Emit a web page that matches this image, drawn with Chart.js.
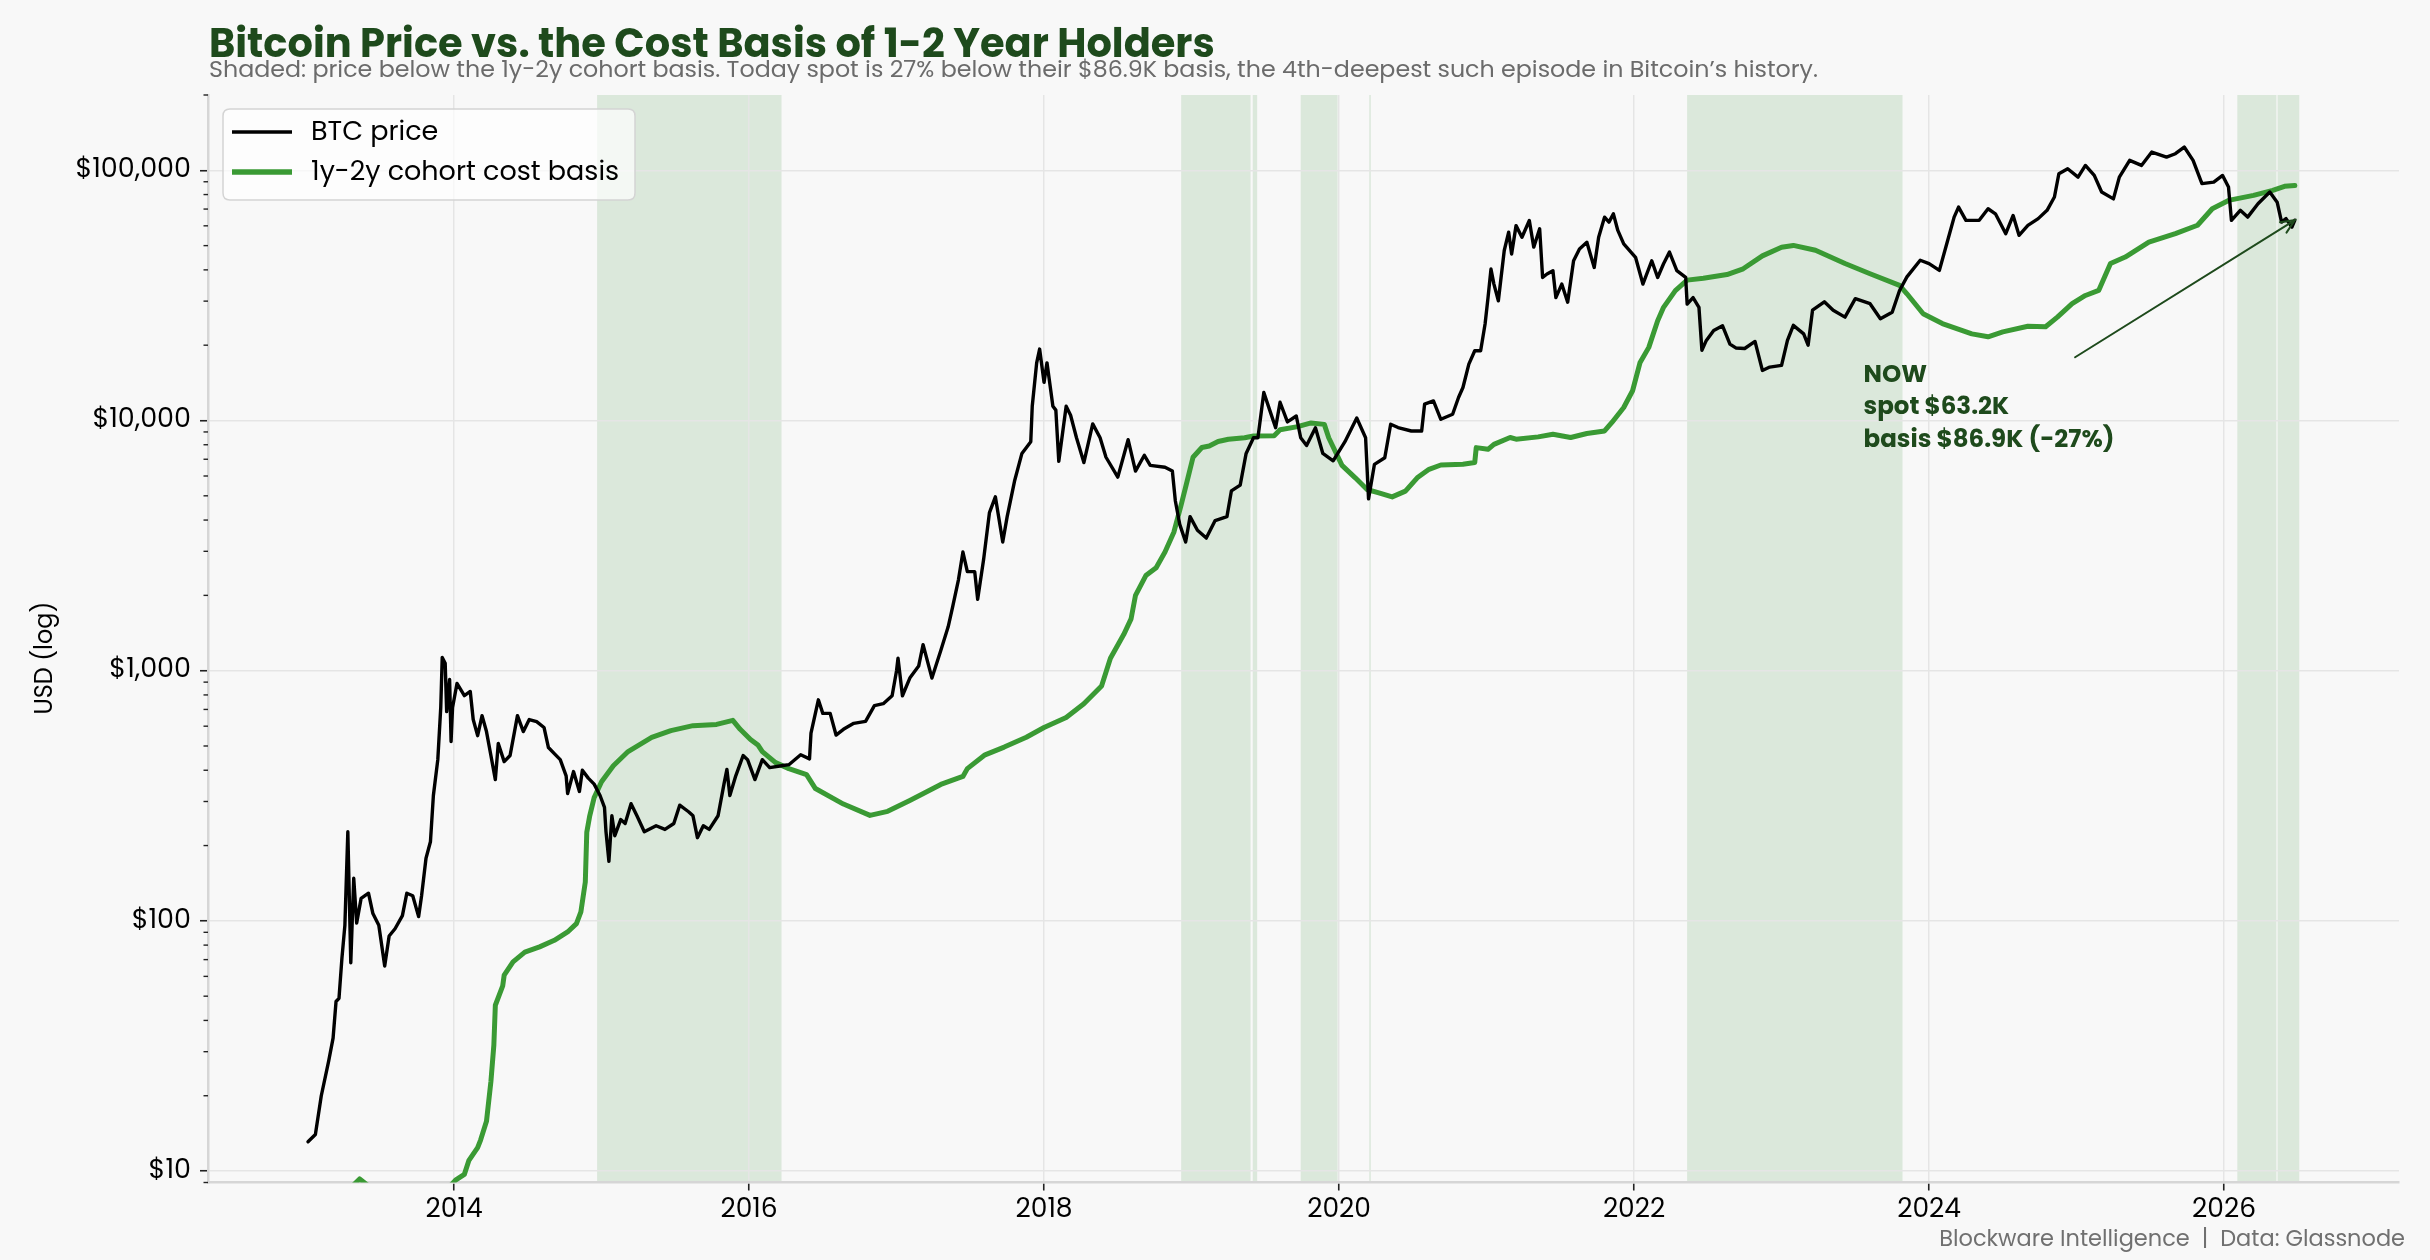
<!DOCTYPE html>
<html>
<head>
<meta charset="utf-8">
<script src="https://cdn.jsdelivr.net/npm/chart.js@4.4.1/dist/chart.umd.min.js"></script>
<style>
html,body{margin:0;padding:0;background:#f8f8f8;}
#wrap{width:2430px;height:1260px;position:relative;}
canvas{display:block;}
</style>
</head>
<body>
<div id="wrap"><canvas id="c" width="2430" height="1260"></canvas></div>
<script>
// ---------------- DATA ----------------
const priceYears = [
2013.01,2013.06,2013.10,2013.15,2013.18,2013.20,2013.22,2013.24,2013.26,2013.28,2013.30,2013.32,2013.34,2013.37,2013.42,2013.45,2013.49,2013.53,2013.56,2013.60,2013.65,2013.68,2013.72,2013.76,2013.78,2013.81,2013.84,2013.86,2013.89,2013.91,2013.92,2013.94,2013.95,2013.97,2013.98,2013.99,
2014.02,2014.07,2014.11,2014.13,2014.16,2014.19,2014.22,2014.25,2014.28,2014.30,2014.34,2014.38,2014.41,2014.43,2014.47,2014.51,2014.56,2014.61,2014.64,2014.68,2014.72,2014.76,2014.77,2014.81,2014.85,2014.87,2014.91,2014.95,2014.99,
2015.02,2015.03,2015.05,2015.07,2015.09,2015.13,2015.16,2015.20,2015.24,2015.29,2015.37,2015.43,2015.49,2015.53,2015.59,2015.62,2015.65,2015.69,2015.73,2015.79,2015.83,2015.85,2015.87,2015.91,2015.96,2015.99,
2016.04,2016.09,2016.14,2016.22,2016.27,2016.35,2016.41,2016.42,2016.47,2016.50,2016.55,2016.59,2016.64,2016.71,2016.79,2016.85,2016.91,2016.97,
2017.00,2017.01,2017.04,2017.09,2017.15,2017.18,2017.24,2017.30,2017.35,2017.38,2017.42,2017.45,2017.48,2017.53,2017.55,2017.59,2017.63,2017.67,2017.72,2017.75,2017.80,2017.85,2017.91,2017.92,2017.95,2017.97,
2018.00,2018.02,2018.06,2018.08,2018.10,2018.15,2018.18,2018.22,2018.27,2018.33,2018.38,2018.42,2018.50,2018.57,2018.62,2018.68,2018.72,2018.82,2018.87,2018.89,2018.92,2018.96,2018.99,
2019.04,2019.10,2019.16,2019.24,2019.27,2019.33,2019.37,2019.42,2019.45,2019.49,2019.53,2019.57,2019.60,2019.65,2019.71,2019.74,2019.78,2019.84,2019.89,2019.96,
2020.04,2020.12,2020.18,2020.20,2020.24,2020.31,2020.35,2020.40,2020.49,2020.56,2020.58,2020.64,2020.69,2020.77,2020.81,2020.84,2020.88,2020.92,2020.96,2020.99,
2021.01,2021.03,2021.05,2021.08,2021.12,2021.15,2021.17,2021.20,2021.24,2021.29,2021.32,2021.36,2021.38,2021.41,2021.45,2021.47,2021.51,2021.55,2021.59,2021.63,2021.68,2021.73,2021.76,2021.80,2021.83,2021.86,2021.89,2021.93,2021.97,
2022.01,2022.06,2022.12,2022.16,2022.20,2022.24,2022.29,2022.35,2022.36,2022.40,2022.44,2022.46,2022.49,2022.54,2022.60,2022.65,2022.69,2022.75,2022.82,2022.87,2022.92,
2023.00,2023.04,2023.08,2023.15,2023.18,2023.21,2023.29,2023.35,2023.43,2023.50,2023.60,2023.67,2023.75,2023.80,2023.85,2023.94,
2024.00,2024.07,2024.12,2024.17,2024.20,2024.25,2024.34,2024.40,2024.45,2024.52,2024.57,2024.61,2024.67,2024.74,2024.80,2024.85,2024.88,2024.94,
2025.01,2025.06,2025.12,2025.17,2025.25,2025.29,2025.36,2025.44,2025.51,2025.61,2025.67,2025.73,2025.79,2025.85,2025.93,2025.99,
2026.03,2026.05,2026.11,2026.16,2026.23,2026.31,2026.36,2026.39,2026.42,2026.46,2026.48
];
const priceValues = [
13.1,14,20,27.5,34,47.6,49,71,96,227,68,148,98,123,129,107,96,66,87,93,105,129,126,104,126,178,207,317,441,713,1130,1070,686,922,521,713,
889,795,826,638,550,661,571,458,367,512,433,458,571,661,571,638,626,593,493,466,441,380,323,395,329,400,372,352,317,
284,228,173,263,219,254,245,294,263,227,240,232,245,290,273,263,215,240,232,263,352,403,317,380,458,441,
367,441,410,417,421,461,444,563,765,675,675,553,583,616,627,725,738,794,
1000,1122,794,934,1043,1271,934,1203,1497,1794,2314,2981,2488,2488,1929,2773,4285,4955,3266,4128,5728,7386,8228,11400,17000,19300,
14200,17000,11400,11000,6870,11400,10500,8530,6790,9690,8530,7130,5940,8380,6280,7260,6620,6500,6280,4780,3845,3266,4128,
3640,3388,3983,4128,5230,5520,7386,8530,8530,12940,11000,9360,11830,9870,10420,8530,7940,9360,7386,6900,
8228,10230,8530,4860,6680,7100,9660,9370,9080,9080,11620,11970,10110,10590,12360,13550,16800,19000,19000,24300,
31000,40300,35100,30100,47800,56600,46300,60100,54000,63000,49300,58400,37300,38500,39700,31000,35100,29700,43500,48500,51600,40900,54000,65000,62100,67000,57500,50800,47800,
44900,35100,43500,37300,42300,47100,39700,37300,29200,31000,28300,19100,20900,22900,23900,20200,19500,19400,20700,15850,16350,
16600,20900,24000,22200,20000,27600,29800,27600,25900,30700,29300,25500,27100,33100,37500,43700,
42400,39800,50900,65000,71300,63100,63100,70200,67000,55800,66000,55000,60200,64100,69200,78200,96900,101400,
93900,104600,95400,81900,76900,93900,109600,104600,118300,113000,116500,123900,109600,88500,89700,95400,
85800,63100,69200,65000,73500,81900,74600,62100,64100,59300,63200
];
const basisYears = [
2013.00,2013.20,2013.36,2013.50,2013.75,2013.95,
2014.01,2014.07,2014.10,2014.16,2014.18,2014.22,2014.25,2014.27,2014.28,2014.33,2014.34,2014.40,2014.48,2014.58,2014.68,2014.77,2014.83,2014.86,2014.89,2014.90,2014.92,2014.95,
2015.00,2015.08,2015.18,2015.34,2015.47,2015.62,2015.78,2015.89,2015.94,
2016.01,2016.06,2016.09,2016.18,2016.27,2016.39,2016.45,2016.64,2016.82,2016.94,
2017.09,2017.30,2017.45,2017.48,2017.60,2017.73,2017.88,
2018.00,2018.15,2018.27,2018.39,2018.45,2018.54,2018.59,2018.62,2018.69,2018.76,2018.82,2018.88,2018.93,2018.97,
2019.01,2019.07,2019.12,2019.18,2019.25,2019.36,2019.42,2019.56,2019.60,2019.72,2019.81,2019.90,2019.93,
2020.02,2020.11,2020.19,2020.27,2020.36,2020.45,2020.53,2020.61,2020.69,2020.84,2020.92,2020.93,
2021.01,2021.05,2021.16,2021.20,2021.35,2021.45,2021.57,2021.68,2021.80,2021.85,2021.93,2021.99,
2022.04,2022.10,2022.16,2022.20,2022.28,2022.36,2022.47,2022.63,2022.74,2022.87,
2023.00,2023.08,2023.23,2023.43,2023.60,2023.80,2023.85,2023.96,
2024.09,2024.29,2024.40,2024.50,2024.67,2024.79,2024.87,2024.97,
2025.06,2025.15,2025.23,2025.33,2025.49,2025.67,2025.82,2025.92,
2026.03,2026.20,2026.33,2026.41,2026.48
];
const basisValues = [
6.0,7.5,9.3,8.0,7.6,8.4,
9.2,9.7,11,12.4,13.3,15.8,22.8,31.9,46,55,60.7,68.6,75,78.7,83.6,90.3,97.5,108.6,143,226,263,311,
360,417,475,541,576,603,610,633,583,
531,505,475,429,406,384,338,293,264,274,
303,351,378,406,461,495,542,
593,650,738,869,1121,1394,1611,2000,2400,2581,2981,3575,4613,5728,
7130,7800,7910,8240,8410,8530,8670,8690,9180,9450,9780,9650,8530,
6620,5900,5300,5140,4950,5220,5900,6380,6640,6680,6790,7790,
7670,8030,8550,8420,8600,8810,8550,8870,9080,9820,11270,13150,
17000,19600,25060,28330,33030,36400,37000,38300,40400,45500,
49300,50100,47900,42400,38600,34700,32100,26700,
24400,22200,21600,22600,23800,23700,25900,29300,
31600,33100,42400,45000,51600,55800,60300,70200,
75800,79400,83200,86300,86900
];
// shaded episodes (price below 1y-2y basis), decimal years
const shadeStarts = [2014.97, 2018.93, 2019.415, 2019.74, 2020.205, 2022.36, 2026.09, 2026.363];
const shadeEnds   = [2016.22, 2019.40, 2019.445, 2019.99, 2020.215, 2023.82, 2026.355, 2026.51];
const yMajorTicks = [10, 100, 1000, 10000, 100000];
const xTickYears = [2014, 2016, 2018, 2020, 2022, 2024, 2026];
const seriesLabels = ['BTC price', '1y-2y cohort cost basis'];
const titleText = 'Bitcoin Price vs. the Cost Basis of 1-2 Year Holders';
const subtitleText = 'Shaded: price below the 1y-2y cohort basis. Today spot is 27% below their $86.9K basis, the 4th-deepest such episode in Bitcoin\u2019s history.';
const footerText = 'Blockware Intelligence  |  Data: Glassnode';
const yAxisTitle = 'USD (log)';
const noteLines = ['NOW', 'spot $63.2K', 'basis $86.9K (-27%)'];
const noteAnchor = {x: 2023.556, y: 14270};
const arrowTail = {x: 2024.99, y: 17900};
const arrowHead = {x: 2026.48, y: 63200};

// ---------------- STYLE ----------------
const FONT = "Poppins, Inter, 'Noto Sans', 'DejaVu Sans', sans-serif";
const BG = '#f8f8f8';
const GREEN = '#3a9a34';
const DARKGREEN = '#1e4a1c';
Chart.defaults.font.family = FONT;
Chart.defaults.color = '#000';

function fitFont(ctx, text, weight, base, target) {
  ctx.font = weight + ' ' + base + 'px ' + FONT;
  const w = ctx.measureText(text).width;
  return base * target / w;
}

const decor = {
  id: 'decor',
  beforeDraw(chart) {
    const ctx = chart.ctx, a = chart.chartArea, xs = chart.scales.x;
    ctx.save();
    ctx.fillStyle = BG;
    ctx.fillRect(0, 0, chart.width, chart.height);
    ctx.fillStyle = 'rgba(46,139,46,0.145)';
    for (let i = 0; i < shadeStarts.length; i++) {
      const x1 = xs.getPixelForValue(shadeStarts[i]);
      const x2 = xs.getPixelForValue(shadeEnds[i]);
      ctx.fillRect(x1, a.top, Math.max(1, x2 - x1), a.bottom - a.top);
    }
    ctx.restore();
  },
  afterDraw(chart) {
    const ctx = chart.ctx, a = chart.chartArea, xs = chart.scales.x, ys = chart.scales.y;
    ctx.save();
    // minor y ticks
    ctx.strokeStyle = '#222'; ctx.lineWidth = 1.4;
    for (let d = 1; d <= 100000; d *= 10) {
      for (let m = 2; m <= 9; m++) {
        const v = m * d;
        if (v < ys.min || v > ys.max) continue;
        const py = ys.getPixelForValue(v);
        ctx.beginPath(); ctx.moveTo(a.left - 4.5, py); ctx.lineTo(a.left, py); ctx.stroke();
      }
    }
    // title & subtitle
    ctx.fillStyle = DARKGREEN;
    ctx.textBaseline = 'alphabetic'; ctx.textAlign = 'left';
    let fs = fitFont(ctx, titleText, 'bold', 35, 1006);
    ctx.font = 'bold ' + fs + 'px ' + FONT;
    ctx.fillText(titleText, 209, 57);
    ctx.fillStyle = '#6b6b6b';
    fs = fitFont(ctx, subtitleText, 'normal', 20, 1609);
    ctx.font = 'normal ' + fs + 'px ' + FONT;
    ctx.fillText(subtitleText, 209, 77);
    // footer
    ctx.fillStyle = '#707070';
    ctx.textAlign = 'right';
    fs = fitFont(ctx, footerText, 'normal', 21, 466);
    ctx.font = 'normal ' + fs + 'px ' + FONT;
    ctx.fillText(footerText, 2405, 1246);
    // y axis title
    ctx.save();
    ctx.translate(46, 658);
    ctx.rotate(-Math.PI / 2);
    ctx.textAlign = 'center'; ctx.textBaseline = 'middle';
    ctx.fillStyle = '#000';
    ctx.font = 'normal 24px ' + FONT;
    ctx.fillText(yAxisTitle, 0, 0);
    ctx.restore();
    // annotation text
    const nx = xs.getPixelForValue(noteAnchor.x), ny = ys.getPixelForValue(noteAnchor.y);
    ctx.fillStyle = DARKGREEN; ctx.textAlign = 'left'; ctx.textBaseline = 'alphabetic';
    ctx.font = 'bold 24.5px ' + FONT;
    noteLines.forEach((t, i) => ctx.fillText(t, nx, ny + i * 32.5));
    // arrow
    const tx = xs.getPixelForValue(arrowTail.x), ty = ys.getPixelForValue(arrowTail.y);
    const hx = xs.getPixelForValue(arrowHead.x), hy = ys.getPixelForValue(arrowHead.y);
    ctx.strokeStyle = DARKGREEN; ctx.lineWidth = 2; ctx.lineCap = 'round';
    ctx.beginPath(); ctx.moveTo(tx, ty); ctx.lineTo(hx, hy); ctx.stroke();
    const ang = Math.atan2(hy - ty, hx - tx), L = 15, sp = 0.42;
    ctx.beginPath();
    ctx.moveTo(hx - L * Math.cos(ang - sp), hy - L * Math.sin(ang - sp));
    ctx.lineTo(hx, hy);
    ctx.lineTo(hx - L * Math.cos(ang + sp), hy - L * Math.sin(ang + sp));
    ctx.stroke();
    // legend box
    const bx = 223, by = 109, bw = 412, bh = 91, r = 7;
    ctx.beginPath();
    ctx.moveTo(bx + r, by); ctx.lineTo(bx + bw - r, by); ctx.quadraticCurveTo(bx + bw, by, bx + bw, by + r);
    ctx.lineTo(bx + bw, by + bh - r); ctx.quadraticCurveTo(bx + bw, by + bh, bx + bw - r, by + bh);
    ctx.lineTo(bx + r, by + bh); ctx.quadraticCurveTo(bx, by + bh, bx, by + bh - r);
    ctx.lineTo(bx, by + r); ctx.quadraticCurveTo(bx, by, bx + r, by);
    ctx.closePath();
    ctx.fillStyle = 'rgba(255,255,255,0.7)'; ctx.fill();
    ctx.strokeStyle = '#d4d4d4'; ctx.lineWidth = 1.5; ctx.stroke();
    const rows = [132, 172];
    chart.data.datasets.forEach((ds, i) => {
      ctx.strokeStyle = ds.borderColor; ctx.lineWidth = i === 0 ? 3.4 : 5.4; ctx.lineCap = 'butt';
      ctx.beginPath(); ctx.moveTo(232, rows[i]); ctx.lineTo(292, rows[i]); ctx.stroke();
      ctx.fillStyle = '#000'; ctx.font = 'normal 27px ' + FONT; ctx.textAlign = 'left'; ctx.textBaseline = 'middle';
      ctx.fillText(ds.label, 311, rows[i] + 1);
    });
    ctx.restore();
  }
};

const ctx = document.getElementById('c').getContext('2d');
new Chart(ctx, {
  type: 'line',
  data: {
    datasets: [
      { label: seriesLabels[0], data: priceYears.map((x, i) => ({x, y: priceValues[i]})),
        borderColor: '#000000', borderWidth: 3.4, pointRadius: 0, tension: 0, order: 0,
        borderJoinStyle: 'round', borderCapStyle: 'round' },
      { label: seriesLabels[1], data: basisYears.map((x, i) => ({x, y: basisValues[i]})),
        borderColor: GREEN, borderWidth: 5, pointRadius: 0, tension: 0, order: 1,
        borderJoinStyle: 'round', borderCapStyle: 'round' }
    ]
  },
  options: {
    responsive: false, animation: false, devicePixelRatio: 1,
    layout: { padding: { left: 0, right: 31, top: 95, bottom: 0 } },
    plugins: { legend: { display: false }, tooltip: { enabled: false }, title: { display: false } },
    scales: {
      x: {
        type: 'linear', min: 2012.332, max: 2027.186,
        afterBuildTicks: s => { s.ticks = xTickYears.map(v => ({ value: v })); },
        afterFit: s => { s.height = 77.5; },
        ticks: { callback: v => String(v), font: { size: 26.5 }, color: '#000', padding: 4, maxRotation: 0, autoSkip: false },
        grid: { color: '#e5e5e5', lineWidth: 1.5, tickColor: '#222', tickLength: 8, tickWidth: 1.6 },
        border: { color: '#d6d6d6', width: 2.5 }
      },
      y: {
        type: 'logarithmic', min: 9, max: 200000,
        afterBuildTicks: s => { s.ticks = yMajorTicks.map(v => ({ value: v, major: true })); },
        afterFit: s => { s.width = 208; },
        ticks: { callback: v => '$' + Number(v).toLocaleString('en-US'), font: { size: 27 }, color: '#000', padding: 9, autoSkip: false },
        grid: { color: '#e5e5e5', lineWidth: 1.5, tickColor: '#222', tickLength: 8, tickWidth: 1.6 },
        border: { color: '#d6d6d6', width: 2.5 }
      }
    }
  },
  plugins: [decor]
});
</script>
</body>
</html>
